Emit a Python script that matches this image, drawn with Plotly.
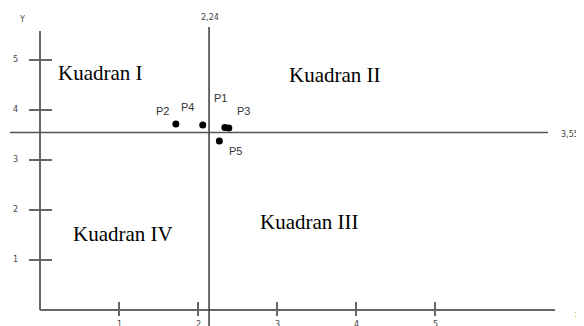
import plotly.graph_objects as go

# tick values and labels
x_ticks = [1, 2, 3, 4, 5]
x_tick_labels = ["1", "2", "3", "4", "5"]
y_ticks = [1, 2, 3, 4, 5]
y_tick_labels = ["1", "2", "3", "4", "5"]

# points
point_names = ["P1", "P2", "P3", "P4", "P5"]
point_x = [2.34, 1.72, 2.39, 2.06, 2.27]
point_y = [3.65, 3.72, 3.64, 3.70, 3.38]

# dividing lines (as drawn) and their labels
split_x = 2.14
split_y = 3.55
split_x_label = "2,24"
split_y_label = "3,55"

quadrant_names = ["Kuadran I", "Kuadran II", "Kuadran III", "Kuadran IV"]

# ---- layout helpers (pixels / styling) ----
W, H = 584, 326
PAGE_OFFSET = 8            # page body margin
X0_PX, X_UNIT = 40 - PAGE_OFFSET, 79     # pixel of x=0, pixels per x unit
Y0_PX, Y_UNIT = 310 - PAGE_OFFSET, 50    # pixel of y=0, pixels per y unit
x_range = [-X0_PX / X_UNIT, (W - X0_PX) / X_UNIT]
y_range = [-(H - Y0_PX) / Y_UNIT, Y0_PX / Y_UNIT]

AXIS_COLOR = "#666666"
TEXT_GRAY = "#444444"
label_shifts = {"P1": (-4, 30), "P2": (-13, 13), "P3": (15, 17), "P4": (-15, 18), "P5": (16, -10)}
quadrant_pos = [(0.20, 4.74), (3.13, 4.70), (2.76, 1.76), (0.39, 1.52)]

fig = go.Figure()

fig.add_trace(go.Scatter(
    x=point_x, y=point_y, mode="markers",
    marker=dict(size=7, color="black", symbol="circle"),
    hoverinfo="text", text=point_names,
))

shapes = []
# axes
shapes.append(dict(type="line", x0=0, x1=6.52, y0=0, y1=0,
                   line=dict(color=AXIS_COLOR, width=2)))
shapes.append(dict(type="line", x0=0, x1=0, y0=0, y1=5.58,
                   line=dict(color=AXIS_COLOR, width=2)))
# ticks crossing the axes
for t in x_ticks:
    shapes.append(dict(type="line", xref="x", yref="y", ysizemode="pixel", yanchor=0,
                       x0=t, x1=t, y0=-6, y1=8, line=dict(color=AXIS_COLOR, width=2)))
for t in y_ticks:
    shapes.append(dict(type="line", xref="x", yref="y", xsizemode="pixel", xanchor=0,
                       x0=-11, x1=12, y0=t, y1=t, line=dict(color=AXIS_COLOR, width=2)))
# quadrant dividers
shapes.append(dict(type="line", x0=split_x, x1=split_x, y0=y_range[0], y1=5.66,
                   line=dict(color="#3a3a3a", width=1.5)))
shapes.append(dict(type="line", x0=-0.38, x1=6.43, y0=split_y, y1=split_y,
                   line=dict(color="#555555", width=1.5)))

annotations = []
small = dict(family="DejaVu Sans", size=8, color=TEXT_GRAY)
for t, lab in zip(x_ticks, x_tick_labels):
    annotations.append(dict(x=t, y=0, text=lab, showarrow=False, yanchor="top",
                            yshift=-8, font=small))
for t, lab in zip(y_ticks, y_tick_labels):
    annotations.append(dict(x=0, y=t, text=lab, showarrow=False, xanchor="center",
                            xshift=-25, yshift=1, font=small))
annotations.append(dict(x=0, y=5.58, text="Y", showarrow=False, xshift=-18, yshift=12, font=small))
annotations.append(dict(x=6.52, y=0, text="x", showarrow=False, xshift=22, yshift=-4, font=small))
annotations.append(dict(x=split_x, y=5.66, text=split_x_label, showarrow=False,
                        yanchor="bottom", yshift=3, xshift=1, font=small))
annotations.append(dict(x=6.43, y=split_y, text=split_y_label, showarrow=False,
                        xanchor="left", xshift=11, yshift=-2, font=small))

for name, px, py in zip(point_names, point_x, point_y):
    dx, dy = label_shifts[name]
    annotations.append(dict(x=px, y=py, text=name, showarrow=False, xshift=dx, yshift=dy,
                            font=dict(family="Liberation Sans Narrow, Arial Narrow, sans-serif",
                                      size=11, color="#333333")))

for name, (qx, qy) in zip(quadrant_names, quadrant_pos):
    annotations.append(dict(x=qx, y=qy, text=name, showarrow=False, xanchor="left",
                            font=dict(family="Liberation Serif, Times New Roman, serif",
                                      size=21, color="black")))

fig.update_layout(
    width=W, height=H,
    margin=dict(l=0, r=0, t=0, b=0),
    paper_bgcolor="white", plot_bgcolor="white",
    xaxis=dict(range=x_range, visible=False, fixedrange=True),
    yaxis=dict(range=y_range, visible=False, fixedrange=True),
    shapes=shapes, annotations=annotations,
    showlegend=False,
)

fig.write_html("out.html")
